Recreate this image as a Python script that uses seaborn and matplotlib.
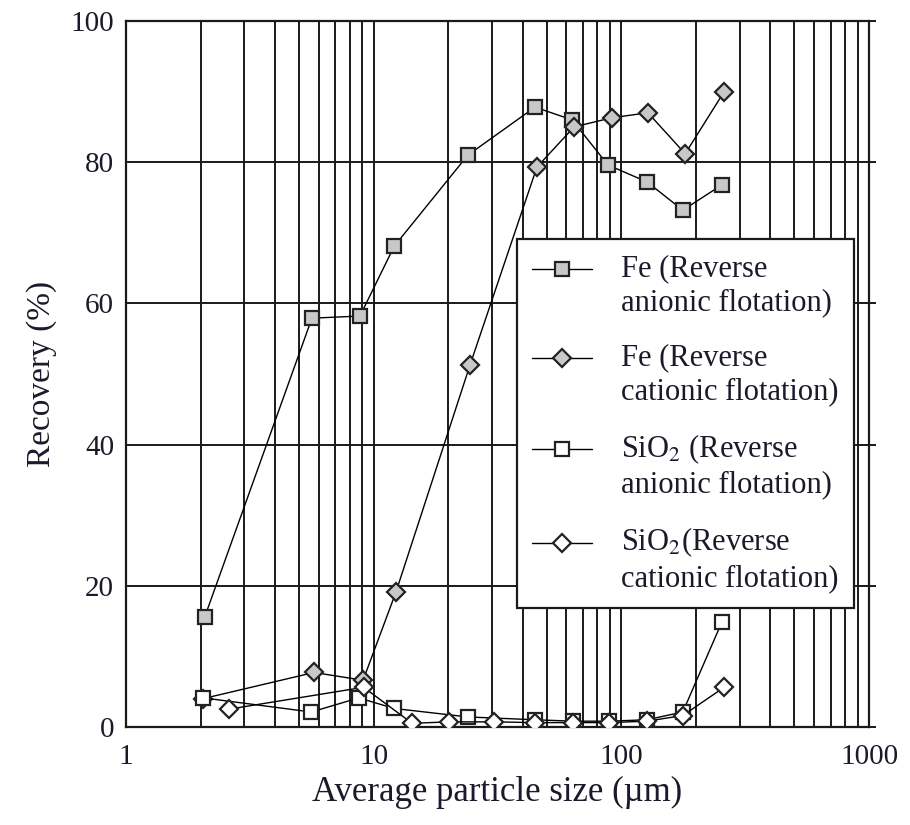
import numpy as np
import pandas as pd
import matplotlib
matplotlib.use('Agg')
import matplotlib.pyplot as plt
from matplotlib.ticker import LogLocator, FixedFormatter, FixedLocator, NullFormatter
import seaborn as sns

# values
fe_an_x = [2.08, 5.63, 8.8, 12.1, 24.0, 44.8, 63.2, 88.3, 127, 177, 255]
fe_an_y = [15.6, 57.9, 58.2, 68.1, 81.0, 87.8, 86.0, 79.6, 77.2, 73.2, 76.8]

fe_cat_x = [2.05, 5.74, 9.06, 12.3, 24.5, 45.6, 64.4, 91.6, 128, 181, 259]
fe_cat_y = [4.0, 7.7, 6.6, 19.1, 51.3, 79.3, 85.0, 86.3, 87.0, 81.2, 89.9]

si_an_x = [2.05, 5.6, 8.7, 12.1, 24.0, 44.8, 63.8, 89.0, 127, 177, 255]
si_an_y = [4.1, 2.1, 4.1, 2.6, 1.4, 1.0, 0.8, 0.8, 1.0, 2.1, 14.9]

si_cat_x = [2.6, 9.1, 14.3, 20.1, 30.6, 44.8, 63.8, 89.0, 127, 177, 260]
si_cat_y = [2.5, 5.6, 0.5, 0.7, 0.7, 0.6, 0.6, 0.6, 0.8, 1.6, 5.6]

labels = ['Fe (Reverse\nanionic flotation)',
          'Fe (Reverse\ncationic flotation)',
          'SiO$_2$ (Reverse\nanionic flotation)',
          'SiO$_2$(Reverse\ncationic flotation)']

sns.set_style('white')
plt.rcParams['font.family'] = ['Liberation Serif', 'DejaVu Serif']
plt.rcParams['mathtext.fontset'] = 'stix'

fig = plt.figure(figsize=(9.1, 8.25), dpi=100)
ax = fig.add_axes([0.1385, 0.119, 0.8165, 0.8555])

series = [
    (fe_an_x, fe_an_y, 's', '#c8c8c8', 10),
    (fe_cat_x, fe_cat_y, 'D', '#c8c8c8', 9.5),
    (si_an_x, si_an_y, 's', 'white', 10),
    (si_cat_x, si_cat_y, 'D', 'white', 9.5),
]
for (xs, ys, mk, fc, ms), lab in zip(series, labels):
    df = pd.DataFrame({'size': xs, 'rec': ys})
    sns.lineplot(data=df, x='size', y='rec', ax=ax, estimator=None, sort=False,
                 color='black', lw=1.0, marker=mk, markersize=ms,
                 markerfacecolor=fc, markeredgecolor='#222222',
                 markeredgewidth=1.6, label=lab, zorder=3)

ax.set_xscale('log')
ax.set_xlim(1, 1000)
ax.set_ylim(0, 100)
ax.xaxis.set_major_locator(FixedLocator([1, 10, 100, 1000]))
ax.xaxis.set_major_formatter(FixedFormatter(['1', '10', '100', '1000']))
ax.xaxis.set_minor_locator(LogLocator(base=10, subs=np.arange(2, 10)))
ax.xaxis.set_minor_formatter(NullFormatter())
ax.set_yticks([0, 20, 40, 60, 80, 100])

ax.grid(True, which='both', axis='x', color='#1a1a1a', lw=1.4)
ax.grid(True, which='major', axis='y', color='#1a1a1a', lw=1.4)
ax.set_axisbelow(True)

for sp in ax.spines.values():
    sp.set_color('#1a1a1a')
    sp.set_linewidth(1.6)

ax.tick_params(axis='both', which='major', direction='out', length=9, width=1.4,
               colors='#1a1a1a', labelsize=21, labelcolor='#1a1a2a')
ax.tick_params(axis='y', which='major', right=True, direction='inout', length=10)
ax.tick_params(axis='x', which='minor', length=0)

ax.set_xlabel('Average particle size (\u00b5m)', fontsize=25, color='#1a1a2a', labelpad=4)
ax.set_ylabel('Recovery (%)', fontsize=24, color='#1a1a2a', labelpad=10)

leg = ax.legend(loc='upper left', bbox_to_anchor=(0.526, 0.691), fontsize=22,
                frameon=True, fancybox=False, edgecolor='#1a1a1a', framealpha=1,
                handlelength=1.95, handletextpad=0.95, labelspacing=0.85,
                borderpad=0.5, borderaxespad=0)
leg.get_frame().set_linewidth(1.6)
leg.set_zorder(5)
for t in leg.get_texts():
    t.set_color('#1a1a2a')
    t.set_linespacing(1.22)
# markers sit level with the first text line, as in the original
for h in leg.legend_handles:
    h.set_ydata(np.asarray(h.get_ydata(), dtype=float) + 12)

fig.savefig('out.png', dpi=100)
